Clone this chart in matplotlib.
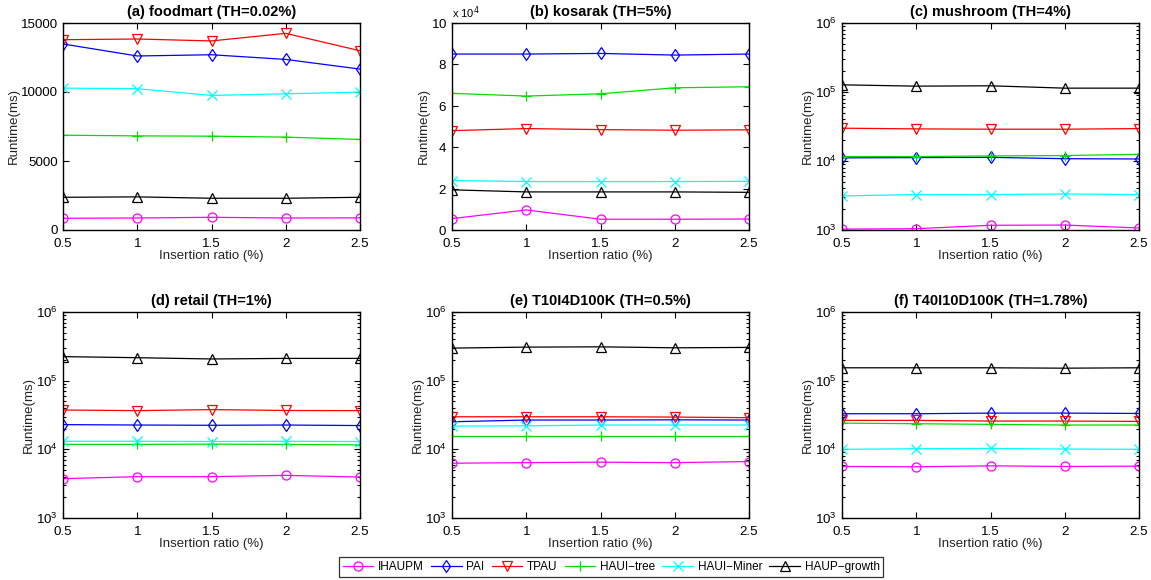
import matplotlib
matplotlib.use("Agg")
import matplotlib.pyplot as plt
from matplotlib.ticker import ScalarFormatter, LogLocator, NullFormatter
import numpy as np

plt.rcParams['font.family'] = ['Liberation Sans', 'DejaVu Sans']

x = [0.5, 1, 1.5, 2, 2.5]
series = ["IHAUPM", "PAI", "TPAU", "HAUI\u2212tree", "HAUI\u2212Miner", "HAUP\u2212growth"]
colors = ["#ff00ff", "#0000ff", "#ff0000", "#00dd00", "#00ffff", "#000000"]
markers = ["o", "d", "v", "+", "x", "^"]

titles = ["(a) foodmart (TH=0.02%)", "(b) kosarak (TH=5%)", "(c) mushroom (TH=4%)",
          "(d) retail (TH=1%)", "(e) T10I4D100K (TH=0.5%)", "(f) T40I10D100K (TH=1.78%)"]

foodmart = [
    [850, 870, 920, 870, 880],
    [13480, 12610, 12700, 12360, 11660],
    [13790, 13840, 13700, 14250, 12990],
    [6870, 6820, 6800, 6730, 6560],
    [10280, 10240, 9750, 9870, 9990],
    [2370, 2400, 2300, 2300, 2370],
]
kosarak = [
    [5500, 9700, 5200, 5200, 5300],
    [85000, 85000, 85300, 84500, 85000],
    [48000, 49000, 48500, 48200, 48400],
    [66000, 64700, 65800, 68700, 69200],
    [23900, 23400, 23400, 23400, 23500],
    [19400, 18400, 18400, 18400, 18200],
]
mushroom = [
    [1030, 1045, 1170, 1180, 1070],
    [11100, 11200, 11300, 10800, 10700],
    [29900, 29200, 28900, 28900, 29500],
    [11600, 11600, 11850, 12000, 12500],
    [3120, 3260, 3260, 3330, 3260],
    [127000, 121600, 123000, 113700, 113700],
]
retail = [
    [3740, 4000, 4000, 4180, 3950],
    [22900, 22600, 22400, 22600, 22200],
    [37400, 36600, 37900, 36800, 36600],
    [11800, 11800, 11900, 11800, 11600],
    [13100, 13100, 13000, 13100, 13000],
    [224000, 216000, 207000, 211000, 211000],
]
t10 = [
    [6280, 6400, 6500, 6400, 6640],
    [25200, 26700, 26700, 26900, 26700],
    [29800, 29800, 29800, 29500, 28900],
    [15400, 15400, 15400, 15400, 15400],
    [21800, 22000, 22600, 22600, 22600],
    [298000, 308000, 311000, 301000, 305000],
]
t40 = [
    [5630, 5570, 5750, 5630, 5690],
    [33000, 33000, 33700, 33700, 33300],
    [26400, 26400, 25800, 25800, 25500],
    [24100, 23600, 23100, 22600, 22600],
    [10000, 10200, 10300, 10100, 10000],
    [154000, 154000, 154000, 152000, 154000],
]
datasets = [foodmart, kosarak, mushroom, retail, t10, t40]

fig = plt.figure(figsize=(11.51, 5.8), dpi=100)
lefts = [63 / 1151, 452 / 1151, 842 / 1151]
w = 297 / 1151
rows = [(1 - 230 / 580, 207 / 580), (1 - 518 / 580, 206 / 580)]

handles = []
for i, data in enumerate(datasets):
    r, c = divmod(i, 3)
    ax = fig.add_axes([lefts[c], rows[r][0], w, rows[r][1]])
    for j, ys in enumerate(data):
        h, = ax.plot(x, ys, color=colors[j], marker=markers[j], markersize=6.5,
                     markerfacecolor='none', markeredgecolor=colors[j],
                     markeredgewidth=0.9, linewidth=0.9, label=series[j])
        if i == 0:
            handles.append(h)
    ax.set_xlim(0.5, 2.5)
    ax.set_xticks(x)
    ax.set_xticklabels(["0.5", "1", "1.5", "2", "2.5"])
    if i == 0:
        ax.set_ylim(0, 15000)
        ax.set_yticks([0, 5000, 10000, 15000])
    elif i == 1:
        ax.set_ylim(0, 100000)
        ax.set_yticks([0, 20000, 40000, 60000, 80000, 100000])
        fmt = ScalarFormatter(useMathText=True)
        fmt.set_powerlimits((4, 4))
        ax.yaxis.set_major_formatter(fmt)
        ax.yaxis.offsetText.set_visible(False)
        ax.text(0.0, 1.01, r"x 10$^4$", transform=ax.transAxes, fontsize=8,
                ha='left', va='bottom')
    else:
        ax.set_yscale('log')
        ax.set_ylim(1e3, 1e6)
        ax.yaxis.set_major_locator(LogLocator(base=10, numticks=10))
        ax.yaxis.set_minor_locator(LogLocator(base=10, subs=np.arange(2, 10), numticks=10))
        ax.yaxis.set_minor_formatter(NullFormatter())
    ax.tick_params(direction='in', which='both', top=True, right=True, labelsize=9.6,
                   length=4, width=0.8, colors='black')
    ax.tick_params(axis='x', which='major', pad=6)
    ax.tick_params(which='minor', length=2)
    ax.tick_params(axis='x', which='minor', top=False, bottom=False)
    for s in ax.spines.values():
        s.set_linewidth(1.0)
    ax.set_title(titles[i], fontsize=10.5, fontweight='bold', pad=5)
    ax.set_xlabel("Insertion ratio (%)", fontsize=9.5, color='#222222', labelpad=0)
    ax.set_ylabel("Runtime(ms)", fontsize=9.5, color='#222222', labelpad=1)

leg = fig.legend(handles, series, loc='center', ncol=6, bbox_to_anchor=(0.531, 1 - 567 / 580),
                 fontsize=8.5, frameon=True, fancybox=False, edgecolor='black',
                 handlelength=2.6, handletextpad=0.4, columnspacing=0.6, borderpad=0.3)
leg.get_frame().set_linewidth(0.9)

fig.savefig("out.png", dpi=100)
